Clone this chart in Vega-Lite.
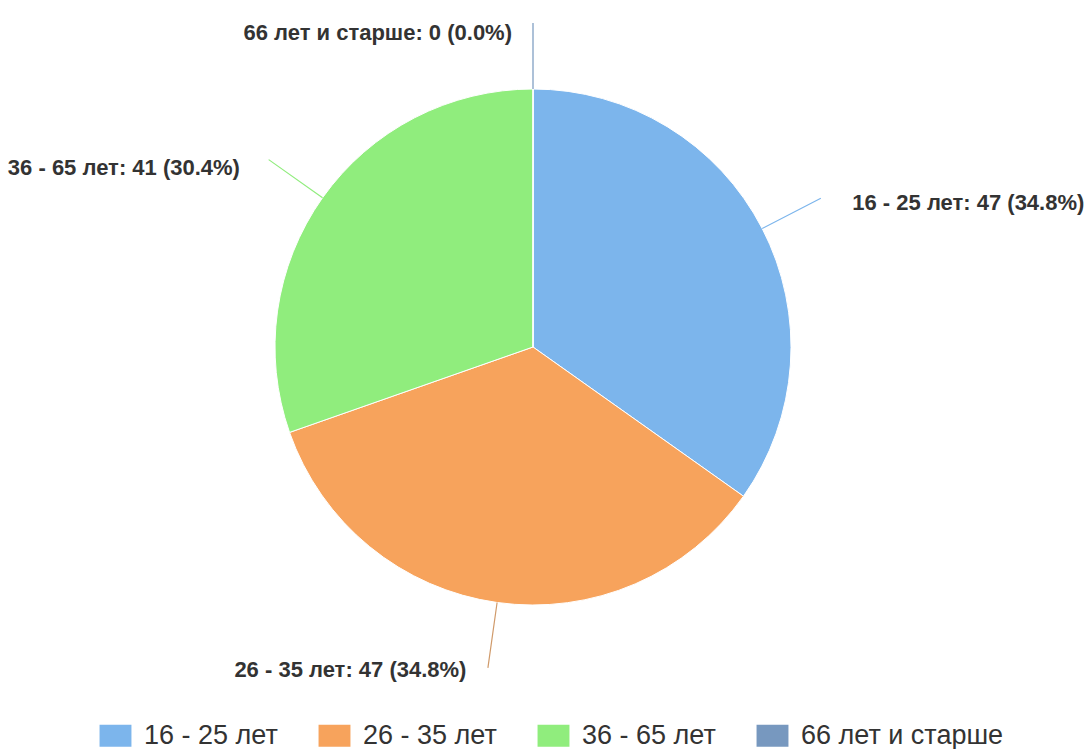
{
  "$schema": "https://vega.github.io/schema/vega-lite/v6.json",
  "width": 1066,
  "height": 694,
  "padding": 0,
  "background": "white",
  "config": {"view": {"stroke": null}},
  "data": {
    "values": [
      {"group": "16 - 25 лет", "value": 47, "label": "16 - 25 лет: 47 (34.8%)"},
      {"group": "26 - 35 лет", "value": 47, "label": "26 - 35 лет: 47 (34.8%)"},
      {"group": "36 - 65 лет", "value": 41, "label": "36 - 65 лет: 41 (30.4%)"},
      {"group": "66 лет и старше", "value": 0, "label": "66 лет и старше: 0 (0.0%)"}
    ]
  },
  "layer": [
    {
      "mark": {"type": "arc", "radius": 258, "stroke": "white", "strokeWidth": 1},
      "encoding": {
        "theta": {"field": "value", "type": "quantitative", "stack": true},
        "color": {
          "field": "group",
          "type": "nominal",
          "scale": {
            "domain": ["16 - 25 лет", "26 - 35 лет", "36 - 65 лет", "66 лет и старше"],
            "range": ["#7cb5ec", "#f7a35c", "#90ed7d", "#7798bf"]
          },
          "legend": {
            "orient": "none",
            "legendX": 102,
            "legendY": 722,
            "direction": "horizontal",
            "title": null,
            "padding": 0,
            "symbolType": "M-1.45,-1H1.45V1H-1.45Z",
            "symbolSize": 484,
            "symbolStrokeWidth": 0,
            "symbolOpacity": 1,
            "labelFont": "Liberation Sans",
            "labelFontSize": 27,
            "labelColor": "#333333",
            "labelOffset": 15,
            "labelLimit": 400,
            "columnPadding": 40
          }
        }
      }
    },
    {
      "mark": {"type": "arc", "radius": 324, "radius2": 258, "padAngle": 3, "filled": false, "strokeWidth": 1.2},
      "encoding": {
        "theta": {"field": "value", "type": "quantitative", "stack": true},
        "stroke": {
          "field": "group",
          "type": "nominal",
          "scale": {
            "domain": ["16 - 25 лет", "26 - 35 лет", "36 - 65 лет", "66 лет и старше"],
            "range": ["#7cb5ec", "#d09a6a", "#90ed7d", "#7798bf"]
          },
          "legend": null
        },
        "detail": {"field": "group"}
      }
    },
    {
      "mark": {"type": "text", "radius": 320, "align": "left", "baseline": "middle", "dx": 35, "dy": 3, "font": "Liberation Sans", "fontWeight": "bold", "fontSize": 22, "color": "#333333"},
      "encoding": {
        "theta": {"field": "value", "type": "quantitative", "stack": true},
        "detail": {"field": "group"},
        "text": {"condition": {"test": "datum.group === '16 - 25 лет'", "field": "label"}, "value": ""}
      }
    },
    {
      "mark": {"type": "text", "radius": 320, "align": "right", "baseline": "middle", "dx": -22, "dy": 6, "font": "Liberation Sans", "fontWeight": "bold", "fontSize": 22, "color": "#333333"},
      "encoding": {
        "theta": {"field": "value", "type": "quantitative", "stack": true},
        "detail": {"field": "group"},
        "text": {"condition": {"test": "datum.group === '26 - 35 лет'", "field": "label"}, "value": ""}
      }
    },
    {
      "mark": {"type": "text", "radius": 320, "align": "right", "baseline": "middle", "dx": -32, "dy": 6, "font": "Liberation Sans", "fontWeight": "bold", "fontSize": 22, "color": "#333333"},
      "encoding": {
        "theta": {"field": "value", "type": "quantitative", "stack": true},
        "detail": {"field": "group"},
        "text": {"condition": {"test": "datum.group === '36 - 65 лет'", "field": "label"}, "value": ""}
      }
    },
    {
      "mark": {"type": "text", "radius": 320, "align": "right", "baseline": "middle", "dx": -21, "dy": 6, "font": "Liberation Sans", "fontWeight": "bold", "fontSize": 22, "color": "#333333"},
      "encoding": {
        "theta": {"field": "value", "type": "quantitative", "stack": true},
        "detail": {"field": "group"},
        "text": {"condition": {"test": "datum.group === '66 лет и старше'", "field": "label"}, "value": ""}
      }
    }
  ]
}
